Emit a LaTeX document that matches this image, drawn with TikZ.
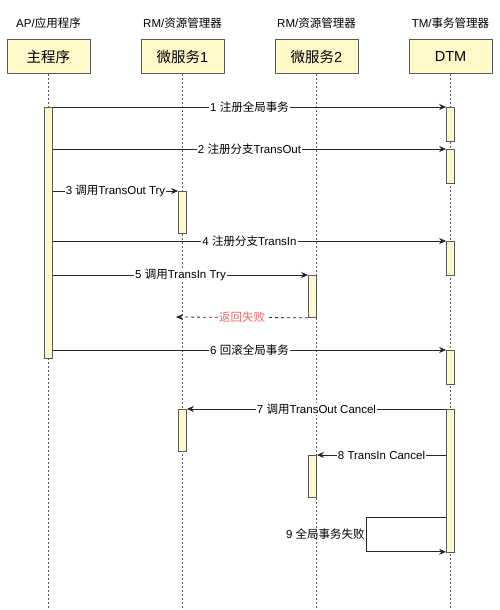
\documentclass[tikz,border=0pt]{standalone}
\usepackage{fontspec}
\setmainfont{Liberation Sans}
\newfontfamily\cjk{Noto Sans CJK SC}
\usetikzlibrary{arrows.meta, positioning}
\definecolor{boxfill}{RGB}{255, 248, 200}
\definecolor{failred}{RGB}{236, 104, 104}
\newcommand{\zh}[1]{{\cjk #1}}

\begin{document}
\begin{tikzpicture}[x=1pt, y=-1pt,
  every node/.style={font=\fontsize{11.5}{13.5}\selectfont},
  actor/.style={draw=black!65, line width=0.8pt, fill=boxfill, minimum width=83pt, minimum height=34pt, font=\fontsize{14.5}{17}\selectfont},
  bar/.style={draw=black!65, line width=0.8pt, fill=boxfill, minimum width=8pt, anchor=north, inner sep=0pt},
  life/.style={draw=black!65, line width=0.8pt, dash pattern=on 2pt off 2pt},
  msg/.style={-{Stealth[length=7pt, width=6pt]}, draw=black!85, line width=0.8pt},
  lbl/.style={fill=white, inner sep=1pt}]

  \useasboundingbox (0,0) rectangle (500,610);

  % Participants
  \node[actor] (app) at (48.5,56.5) {\zh{主程序}};
  \node[actor] (ms1) at (182.5,56.5) {\zh{微服务}1};
  \node[actor] (ms2) at (316.5,56.5) {\zh{微服务}2};
  \node[actor] (dtm) at (450.5,56.5) {DTM};
  \node[above=7pt of app] {AP/\zh{应用程序}};
  \node[above=7pt of ms1] {RM/\zh{资源管理器}};
  \node[above=7pt of ms2] {RM/\zh{资源管理器}};
  \node[above=7pt of dtm] {TM/\zh{事务管理器}};

  % Lifelines
  \draw[life] (app.south) -- (app |- 0,610);
  \draw[life] (ms1.south) -- (ms1 |- 0,610);
  \draw[life] (ms2.south) -- (ms2 |- 0,610);
  \draw[life] (dtm.south) -- (dtm |- 0,610);

  % Activation bars
  \node[bar, minimum height=251pt] (appbar) at (48.5,107) {};
  \node[bar, minimum height=34pt] (dtm1) at (450.5,107) {};
  \node[bar, minimum height=34pt] (dtm2) at (450.5,149) {};
  \node[bar, minimum height=34pt] (dtm3) at (450.5,241) {};
  \node[bar, minimum height=34pt] (dtm4) at (450.5,350) {};
  \node[bar, minimum height=143pt] (dtm5) at (450.5,409) {};
  \node[bar, minimum height=42pt] (m1a) at (182.5,191) {};
  \node[bar, minimum height=42pt] (m1b) at (182.5,409) {};
  \node[bar, minimum height=42pt] (m2a) at (312.5,275) {};
  \node[bar, minimum height=42pt] (m2b) at (312.5,455) {};

  % Messages
  \draw[msg] (appbar.north east) -- node[lbl] {1 \zh{注册全局事务}} (dtm1.north west);
  \draw[msg] (appbar.east |- dtm2.north) -- node[lbl] {2 \zh{注册分支}TransOut} (dtm2.north west);
  \draw[msg] (appbar.east |- m1a.north) -- node[lbl] {3 \zh{调用}TransOut Try} (m1a.north west);
  \draw[msg] (appbar.east |- dtm3.north) -- node[lbl] {4 \zh{注册分支}TransIn} (dtm3.north west);
  \draw[msg] (appbar.east |- m2a.north) -- node[lbl] {5 \zh{调用}TransIn Try} (m2a.north west);
  \coordinate (failend) at (176,317);
  \draw[msg, dash pattern=on 3pt off 3pt] (m2a.south west) -- node[lbl, text=failred] {\zh{返回失败}} (failend);
  \draw[msg] (appbar.east |- dtm4.north) -- node[lbl] {6 \zh{回滚全局事务}} (dtm4.north west);
  \draw[msg] (dtm5.north west) -- node[lbl] {7 \zh{调用}TransOut Cancel} (m1b.north east);
  \draw[msg] (dtm5.west |- m2b.north) -- node[lbl] {8 TransIn Cancel} (m2b.north east);
  \draw[msg] ([yshift=-108pt]dtm5.north west) -- ++(-80,0) |- node[pos=0.25, left, inner sep=1pt] {9 \zh{全局事务失败}} ([yshift=1pt]dtm5.south west);
\end{tikzpicture}
\end{document}
